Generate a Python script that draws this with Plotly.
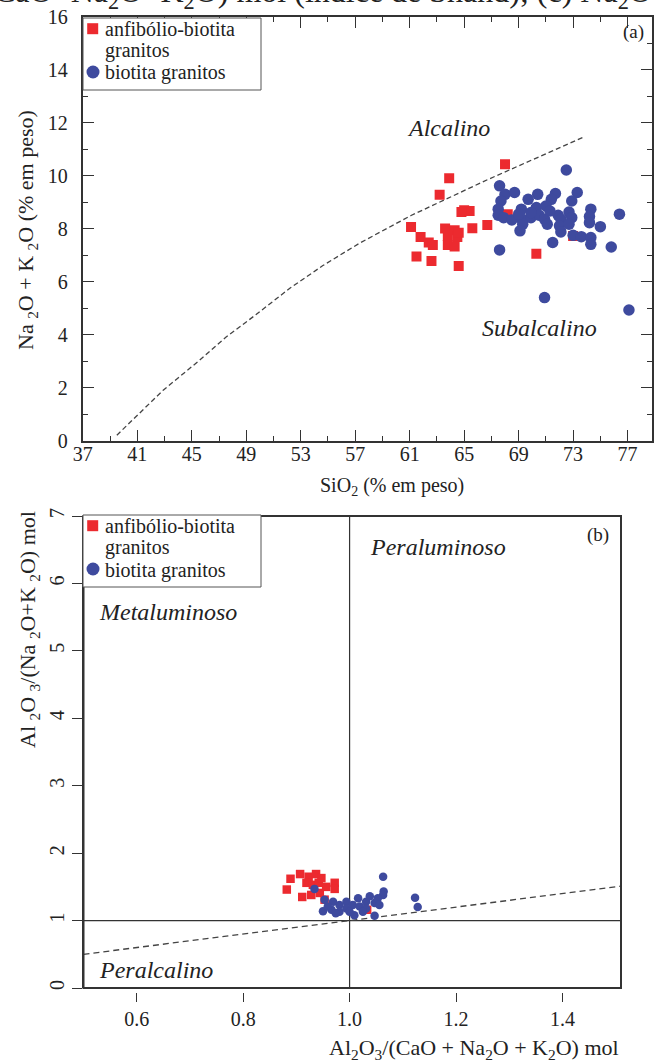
import plotly.graph_objects as go

W, H = 657, 1062
FONT = "Liberation Serif, Times New Roman, serif"
RED = "#EC2A2F"
BLUE = "#3E4A9E"
INK = "#333333"

# ---------------- Panel (a): TAS ----------------
sio2_anf = [68.0, 63.9, 63.2, 65.0, 65.4, 64.8, 61.1, 65.6, 66.7, 61.8, 63.6, 64.3, 64.5,
            63.8, 62.4, 62.7, 63.8, 64.3, 61.5, 62.6, 64.6, 70.3, 68.2, 73.0, 64.6]
alk_anf = [10.44, 9.91, 9.28, 8.70, 8.67, 8.63, 8.07, 8.02, 8.14, 7.69, 8.01, 7.94, 7.69,
           7.73, 7.48, 7.39, 7.39, 7.33, 6.95, 6.78, 6.59, 7.06, 8.55, 7.73, 7.85]

sio2_bio = [72.5, 67.6, 68.0, 68.7, 67.7, 70.4, 71.7, 73.3, 69.7, 71.4, 72.9, 67.5, 69.2,
            70.3, 71.0, 74.3, 72.7, 67.5, 67.9, 68.5, 69.2, 69.9, 70.5, 70.9, 71.9, 72.1,
            72.9, 74.2, 76.4, 69.3, 71.1, 72.0, 72.7, 74.2, 75.0, 69.1, 72.1, 73.0, 73.6,
            74.3, 74.3, 71.5, 67.6, 75.8, 70.9, 77.1, 69.9, 71.3, 69.0]
alk_bio = [10.22, 9.62, 9.30, 9.37, 9.05, 9.30, 9.33, 9.37, 9.11, 9.11, 9.05, 8.74, 8.74,
           8.80, 8.86, 8.74, 8.63, 8.51, 8.42, 8.33, 8.38, 8.42, 8.51, 8.36, 8.51, 8.36,
           8.42, 8.46, 8.55, 8.17, 8.17, 8.11, 8.17, 8.23, 8.08, 7.92, 7.88, 7.75, 7.70,
           7.67, 7.41, 7.48, 7.20, 7.31, 5.40, 4.93, 8.61, 8.67, 8.55]

# Alkaline / subalkaline divide
curve_sio2 = [39.5, 41.0, 42.9, 45.5, 47.5, 49.7, 52.2, 54.6, 57.3, 61.1, 66.7, 73.7]
curve_alk = [0.2, 0.95, 1.9, 3.0, 3.9, 4.75, 5.75, 6.6, 7.45, 8.5, 9.85, 11.45]

x_ticks_a = [37, 41, 45, 49, 53, 57, 61, 65, 69, 73, 77]
y_ticks_a = [0, 2, 4, 6, 8, 10, 12, 14, 16]

# ---------------- Panel (b): Shand ----------------
acnk_anf = [0.889, 0.907, 0.923, 0.937, 0.882, 0.911, 0.919, 0.931, 0.942, 0.944, 0.956,
            0.972, 0.972, 0.953, 0.928, 0.947, 1.033]
ank_anf = [1.62, 1.69, 1.65, 1.69, 1.46, 1.35, 1.56, 1.53, 1.56, 1.41, 1.50,
           1.56, 1.47, 1.31, 1.38, 1.63, 1.16]

acnk_bio = [0.934, 1.063, 1.064, 1.063, 1.123, 1.128, 1.047, 0.950, 0.953, 0.969, 0.966,
            0.981, 0.981, 0.994, 0.994, 1.006, 1.009, 1.016, 1.019, 1.031, 1.031, 1.038,
            1.047, 1.053, 1.056, 0.959, 0.974, 1.000, 1.025]
ank_bio = [1.47, 1.65, 1.43, 1.38, 1.34, 1.20, 1.07, 1.14, 1.31, 1.28, 1.16,
           1.23, 1.13, 1.28, 1.18, 1.23, 1.08, 1.33, 1.21, 1.28, 1.18, 1.36,
           1.26, 1.33, 1.23, 1.21, 1.11, 1.13, 1.13]

# boundaries
vline_x, vline_y = [1.0, 1.0], [0, 7]
hline_x, hline_y = [0.5, 1.51], [1, 1]
diag_x, diag_y = [0.5, 1.51], [0.5, 1.51]

x_ticks_b = [0.6, 0.8, 1.0, 1.2, 1.4]
x_ticklabels_b = ["0.6", "0.8", "1.0", "1.2", "1.4"]
y_ticks_b = [0, 1, 2, 3, 4, 5, 6, 7]


def px(x):
    return x / W


def py(y):
    return 1 - y / H


fig = go.Figure()

# Panel (a) traces
fig.add_trace(go.Scatter(x=curve_sio2, y=curve_alk, mode="lines", line=dict(color="#444", width=1.3, dash="5px,3px"),
                         xaxis="x", yaxis="y", hoverinfo="skip"))
fig.add_trace(go.Scatter(x=sio2_anf, y=alk_anf, mode="markers", name="anfibólio-biotita granitos",
                         marker=dict(symbol="square", size=10, color=RED), xaxis="x", yaxis="y"))
fig.add_trace(go.Scatter(x=sio2_bio, y=alk_bio, mode="markers", name="biotita granitos",
                         marker=dict(symbol="circle", size=11.5, color=BLUE), xaxis="x", yaxis="y"))

# Panel (b) traces
fig.add_trace(go.Scatter(x=vline_x, y=vline_y, mode="lines", line=dict(color=INK, width=1.2), xaxis="x2", yaxis="y2", hoverinfo="skip"))
fig.add_trace(go.Scatter(x=hline_x, y=hline_y, mode="lines", line=dict(color=INK, width=1.2), xaxis="x2", yaxis="y2", hoverinfo="skip"))
fig.add_trace(go.Scatter(x=diag_x, y=diag_y, mode="lines", line=dict(color="#444", width=1.3, dash="6px,4px"), xaxis="x2", yaxis="y2", hoverinfo="skip"))
fig.add_trace(go.Scatter(x=acnk_anf, y=ank_anf, mode="markers", name="anfibólio-biotita granitos",
                         marker=dict(symbol="square", size=8.5, color=RED), xaxis="x2", yaxis="y2"))
fig.add_trace(go.Scatter(x=acnk_bio, y=ank_bio, mode="markers", name="biotita granitos",
                         marker=dict(symbol="circle", size=8.5, color=BLUE), xaxis="x2", yaxis="y2"))

tickfont = dict(family=FONT, size=20, color="#222")

# axis geometry (px)
A_L, A_R, A_T, A_B = 82.8, 652, 17, 440.5
B_L, B_R, B_T, B_B = 83.5, 621, 516, 988

fig.update_layout(
    template="none",
    width=W, height=H, showlegend=False,
    margin=dict(l=0, r=0, t=0, b=0, pad=0),
    paper_bgcolor="white", plot_bgcolor="white",
    font=dict(family=FONT, color="#222"),
    xaxis=dict(domain=[px(A_L), px(A_R)], range=[37, 37 + (A_R - A_L) / 13.62], anchor="y", automargin=False,
               tickmode="array", tickvals=x_ticks_a, ticktext=[str(v) for v in x_ticks_a],
               ticks="inside", ticklen=11, tickwidth=1.3, tickcolor=INK,
               minor=dict(dtick=2, tick0=37, ticks="inside", ticklen=5, tickwidth=1.3, tickcolor=INK, showgrid=False),
               showline=True, linecolor=INK, linewidth=2, mirror="ticks",
               showgrid=False, zeroline=False, tickfont=tickfont, ticklabelstandoff=-6),
    yaxis=dict(domain=[py(A_B), py(A_T)], range=[0, 16], anchor="x", automargin=False,
               tickmode="array", tickvals=y_ticks_a,
               ticks="inside", ticklen=11, tickwidth=1.3, tickcolor=INK,
               minor=dict(dtick=1, tick0=0, ticks="inside", ticklen=5, tickwidth=1.3, tickcolor=INK, showgrid=False),
               showline=True, linecolor=INK, linewidth=2, mirror="ticks",
               showgrid=False, zeroline=False, tickfont=tickfont, ticklabelstandoff=9),
    xaxis2=dict(domain=[px(B_L), px(B_R)], range=[0.5, 1.51], anchor="free", position=py(B_B + 3.5), automargin=False,
                tickmode="array", tickvals=x_ticks_b, ticktext=x_ticklabels_b,
                ticks="outside", ticklen=9, tickwidth=1.3, tickcolor=INK,
                showline=False, showgrid=False, zeroline=False, tickfont=tickfont),
    yaxis2=dict(domain=[py(B_B), py(B_T)], range=[0, 7], anchor="x2", automargin=False,
                tickmode="array", tickvals=y_ticks_b, tickangle=-90,
                ticks="outside", ticklen=10, tickwidth=1.3, tickcolor=INK,
                showline=True, linecolor=INK, linewidth=2,
                showgrid=False, zeroline=False, tickfont=tickfont),
)

shapes = []
# frame for panel (b)
shapes.append(dict(type="rect", xref="paper", yref="paper", x0=px(B_L), x1=px(B_R), y0=py(B_B), y1=py(B_T),
                   line=dict(color=INK, width=2), layer="above"))


def legend_box(top):
    s = []
    s.append(dict(type="rect", xref="paper", yref="paper", x0=px(83), x1=px(261), y0=py(top + 72), y1=py(top),
                  line=dict(color="#555", width=1), fillcolor="white", layer="above"))
    s.append(dict(type="rect", xref="paper", yref="paper", x0=px(87.2), x1=px(98.2), y0=py(top + 16.2), y1=py(top + 5.2),
                  line=dict(width=0), fillcolor=RED, layer="above"))
    s.append(dict(type="circle", xref="paper", yref="paper", x0=px(86.5), x1=px(99.5), y0=py(top + 60.5), y1=py(top + 47.5),
                  line=dict(width=0), fillcolor=BLUE, layer="above"))
    return s


shapes += legend_box(18)
shapes += legend_box(515)

ann = []


def txt(x, y, s, size=20, xanchor="left", italic=False, angle=0, yanchor="middle"):
    ann.append(dict(x=px(x), y=py(y), xref="paper", yref="paper", text=s, showarrow=False,
                    xanchor=xanchor, yanchor=yanchor, textangle=angle,
                    font=dict(family=FONT, size=size, color="#222", style="italic" if italic else "normal")))


for top in (18, 515):
    txt(103, top + 11, "anfibólio-biotita")
    txt(103, top + 33, "granitos")
    txt(103, top + 55, "biotita granitos")

txt(633, 32, "(a)", xanchor="center", size=19)
txt(598, 535, "(b)", xanchor="center", size=19)

# region labels
txt(405, 128, "Alcalino", size=24, italic=True)
txt(480, 328, "Subalcalino", size=24, italic=True)
txt(368, 547, "Peraluminoso", size=24, italic=True)
txt(97, 612, "Metaluminoso", size=24, italic=True)
txt(97, 970, "Peralcalino", size=24, italic=True)

# axis titles
txt(392, 486, "SiO<sub>2</sub> (% em peso)", size=20, xanchor="center")
txt(27, 230, "Na <sub>2</sub>O + K <sub>2</sub>O (% em peso)", size=22, xanchor="center", angle=-90)
txt(621, 1049, "Al<sub>2</sub>O<sub>3</sub>/(CaO + Na<sub>2</sub>O + K<sub>2</sub>O) mol", size=22, xanchor="right")
txt(29, 630, "Al <sub>2</sub>O <sub>3</sub>/(Na <sub>2</sub>O+K <sub>2</sub>O) mol", size=22, xanchor="center", angle=-90)

# cropped caption line at the very top
txt(-8, 16, "CaO+Na<sub>2</sub>O+K<sub>2</sub>O) mol (índice de Shand); (c) Na<sub>2</sub>O", size=32, yanchor="bottom")

fig.update_layout(shapes=shapes, annotations=ann)
fig.write_html("out.html", config={"displayModeBar": False},
               post_script="document.body.style.margin='0px';")
